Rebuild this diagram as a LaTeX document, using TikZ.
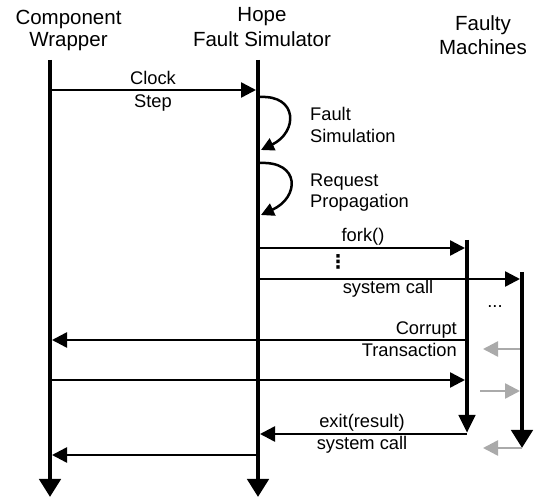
\documentclass[tikz,border=0pt]{standalone}
\usepackage{fontspec}
\setmainfont{Liberation Sans}
\newfontfamily\dejavubold{DejaVu Sans Bold}
\usetikzlibrary{arrows.meta,calc}
\definecolor{lightarrow}{RGB}{170,170,170}
\begin{document}
\begin{tikzpicture}[x=1pt,y=-1pt,
  life/.style={line width=4.5pt,-{Triangle[length=18pt,width=21pt]}},
  lifesmall/.style={line width=4.5pt,-{Triangle[length=18pt,width=16pt]}},
  msg/.style={line width=2.5pt,-{Triangle[length=15pt,width=15pt]}},
  ghost/.style={msg,draw=lightarrow},
  selfmsg/.style={line width=2.5pt,-{Triangle[length=13pt,width=13pt]}},
  title/.style={font=\fontsize{20.5}{24}\selectfont,anchor=base,inner sep=0pt},
  lbl/.style={font=\fontsize{18.3}{22}\selectfont,anchor=base,inner sep=0pt},
]
\useasboundingbox (0,0) rectangle (536,502);
% lifeline reference coordinates
\coordinate (L1) at (50,0);
\coordinate (L2) at (258,0);
\coordinate (L3) at (467,0);
\coordinate (L4) at (522,0);
% titles
\node[title] (cw1) at (68.5,25) {Component};
\node[title] (cw2) at (68.5,47) {Wrapper};
\node[title] (h1) at (262,22) {Hope};
\node[title] (h2) at (262,47) {Fault Simulator};
\node[title] (f1) at (483,31) {Faulty};
\node[title] (f2) at (483,55) {Machines};
% lifelines
\draw[life] ($(L1)+(0,60)$) -- ($(L1)+(0,497)$);
\draw[life] ($(L2)+(0,60)$) -- ($(L2)+(0,497)$);
\draw[lifesmall] ($(L3)+(0,240)$) -- ($(L3)+(0,433)$);
\draw[life] ($(L4)+(0,272)$) -- ($(L4)+(0,448)$);
% messages
\draw[msg] ($(L1)+(2,90)$) -- ($(L2)+(-2,90)$);
\draw[selfmsg] ($(L2)+(2,97)$) .. controls ($(L2)+(40,95)$) and ($(L2)+(40,132)$) .. ($(L2)+(3,150)$);
\draw[selfmsg] ($(L2)+(2,163)$) .. controls ($(L2)+(42,161)$) and ($(L2)+(42,197)$) .. ($(L2)+(3,215)$);
\draw[msg] ($(L2)+(2,248)$) -- ($(L3)+(-2,248)$);
\draw[msg] ($(L2)+(2,279)$) -- ($(L4)+(-2,279)$);
\draw[msg] ($(L3)+(-2,340)$) -- ($(L1)+(2,340)$);
\draw[ghost] ($(L4)+(-2,349)$) -- ($(L4)+(-39,349)$);
\draw[msg] ($(L1)+(2,380)$) -- ($(L3)+(-2,380)$);
\draw[ghost] ($(L4)+(-42,391)$) -- ($(L4)+(-2,391)$);
\draw[msg] ($(L3)+(0,434)$) -- ($(L2)+(2,434)$);
\draw[ghost] ($(L4)+(0,448)$) -- ($(L4)+(-39,448)$);
\draw[msg] ($(L2)+(-2,455)$) -- ($(L1)+(2,455)$);
% labels
\node[lbl] (clk1) at (153,85) {Clock};
\node[lbl] (clk2) at (153,108) {Step};
\node[lbl,anchor=base west] (fs1) at (310,121) {Fault};
\node[lbl,anchor=base west] (fs2) at (310,143) {Simulation};
\node[lbl,anchor=base west] (rp1) at (310,187) {Request};
\node[lbl,anchor=base west] (rp2) at (310,208) {Propagation};
\node[lbl] (fork) at (363,242) {fork()};
\node[font=\dejavubold\fontsize{19}{22}\selectfont,inner sep=0pt] (vd) at (338,262) {⋮};
\node[lbl] (sc1) at (388,294) {system call};
\node[lbl] (dots) at (495,308) {...};
\node[lbl,anchor=base east] (ct1) at (457,335) {Corrupt};
\node[lbl,anchor=base east] (ct2) at (457,357) {Transaction};
\node[lbl] (ex1) at (362,428) {exit(result)};
\node[lbl] (ex2) at (362,450) {system call};
\end{tikzpicture}
\end{document}
